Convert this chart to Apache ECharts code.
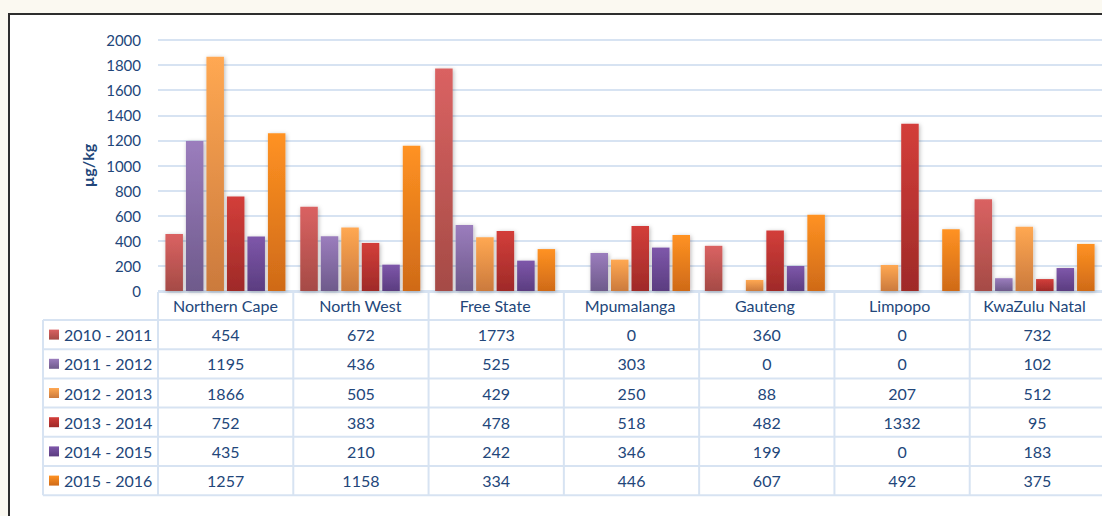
<!DOCTYPE html>
<html>
<head>
<meta charset="utf-8">
<script src="https://cdn.jsdelivr.net/npm/echarts@6/dist/echarts.min.js"></script>
<style>
html,body{margin:0;padding:0;background:#FBF9F1;}
#chart{width:1102px;height:516px;}
</style>
</head>
<body>
<div id="chart"></div>
<script>
var categories = ['Northern Cape', 'North West', 'Free State', 'Mpumalanga', 'Gauteng', 'Limpopo', 'KwaZulu Natal'];
var seriesNames = ['2010 - 2011', '2011 - 2012', '2012 - 2013', '2013 - 2014', '2014 - 2015', '2015 - 2016'];
var s2010 = [454, 672, 1773, 0, 360, 0, 732];
var s2011 = [1195, 436, 525, 303, 0, 0, 102];
var s2012 = [1866, 505, 429, 250, 88, 207, 512];
var s2013 = [752, 383, 478, 518, 482, 1332, 95];
var s2014 = [435, 210, 242, 346, 199, 0, 183];
var s2015 = [1257, 1158, 334, 446, 607, 492, 375];
var seriesValues = [s2010, s2011, s2012, s2013, s2014, s2015];
var yTicks = [0, 200, 400, 600, 800, 1000, 1200, 1400, 1600, 1800, 2000];

var topColors = ['#DA6262', '#9B7DBD', '#FFA852', '#D33E3A', '#7E57AA', '#FF9222'];
var bottomColors = ['#A54B46', '#6E5A8B', '#CB7A3D', '#9F2A28', '#5B3D80', '#CF6A18'];
var textColor = '#22467A';
var lineColor = '#D7E3F2';
var FONT = 'Lato';

var G = {left: 158, top: 40, width: 947, height: 251};
var rowTop = 320, rowH = 29.2, legLeft = 43, headTop = 292;

var chart = echarts.init(document.getElementById('chart'), null, {renderer: 'svg'});

var series = seriesNames.map(function (n, i) {
  return {
    name: n,
    type: 'bar',
    data: seriesValues[i],
    barGap: '17%',
    barCategoryGap: '11%',
    itemStyle: {
      color: new echarts.graphic.LinearGradient(0, 0, 0, 1, [
        {offset: 0, color: topColors[i]},
        {offset: 1, color: bottomColors[i]}
      ]),
      shadowBlur: 4,
      shadowColor: 'rgba(0,0,0,0.28)',
      shadowOffsetX: 1,
      shadowOffsetY: 1
    },
    emphasis: {disabled: true},
    animation: false
  };
});

var graphics = [];
graphics.push({type: 'rect', z: -100, shape: {x: 9, y: 14, width: 1200, height: 600},
  style: {fill: '#FFFFFF', stroke: '#2E2E2E', lineWidth: 2}});
var catW = G.width / categories.length;
var right = G.left + G.width;
var nRows = seriesNames.length;
var bottom = rowTop + nRows * rowH;
graphics.push({type: 'line', shape: {x1: G.left, y1: headTop, x2: right, y2: headTop}, style: {stroke: lineColor, lineWidth: 2}});
for (var r = 0; r <= nRows; r++) {
  var y = rowTop + r * rowH;
  graphics.push({type: 'line', shape: {x1: legLeft, y1: y, x2: right, y2: y}, style: {stroke: lineColor, lineWidth: 2}});
}
graphics.push({type: 'line', shape: {x1: legLeft, y1: rowTop, x2: legLeft, y2: bottom}, style: {stroke: lineColor, lineWidth: 2}});
for (var c = 0; c <= categories.length; c++) {
  var x = G.left + c * catW;
  graphics.push({type: 'line', shape: {x1: x, y1: headTop, x2: x, y2: bottom}, style: {stroke: lineColor, lineWidth: 2}});
}
for (var r2 = 0; r2 < nRows; r2++) {
  var cy = rowTop + (r2 + 0.5) * rowH;
  graphics.push({type: 'rect', shape: {x: 49, y: cy - 5, width: 10, height: 10},
    style: {fill: new echarts.graphic.LinearGradient(0, 0, 0, 1, [
      {offset: 0, color: topColors[r2]}, {offset: 1, color: bottomColors[r2]}])}});
  graphics.push({type: 'text', x: 64, y: cy, style: {text: seriesNames[r2], fill: textColor,
    font: '16px ' + FONT, textAlign: 'left', textVerticalAlign: 'middle'}});
  for (var c2 = 0; c2 < categories.length; c2++) {
    graphics.push({type: 'text', x: G.left + (c2 + 0.5) * catW, y: cy, style: {
      text: String(seriesValues[r2][c2]), fill: textColor, font: '16px ' + FONT,
      textAlign: 'center', textVerticalAlign: 'middle'}});
  }
}

chart.setOption({
  animation: false,
  backgroundColor: 'transparent',
  grid: {left: G.left, top: G.top, width: G.width, height: G.height, containLabel: false},
  xAxis: {
    type: 'category',
    data: categories,
    axisLine: {show: false},
    axisTick: {show: false},
    axisLabel: {color: textColor, fontFamily: FONT, fontSize: 16, margin: 6, interval: 0}
  },
  yAxis: {
    type: 'value',
    min: 0, max: 2000, interval: 200,
    name: 'µg/kg',
    nameLocation: 'middle',
    nameGap: 60,
    nameRotate: 90,
    nameTextStyle: {color: textColor, fontFamily: FONT, fontSize: 16, fontWeight: 'bold'},
    axisLine: {show: false},
    axisTick: {show: false},
    axisLabel: {color: textColor, fontFamily: FONT, fontSize: 15, margin: 17,
      formatter: function (v) { return yTicks.indexOf(v) >= 0 ? String(v) : ''; }},
    splitLine: {lineStyle: {color: lineColor, width: 2}}
  },
  series: series,
  graphic: graphics
});
</script>
</body>
</html>
